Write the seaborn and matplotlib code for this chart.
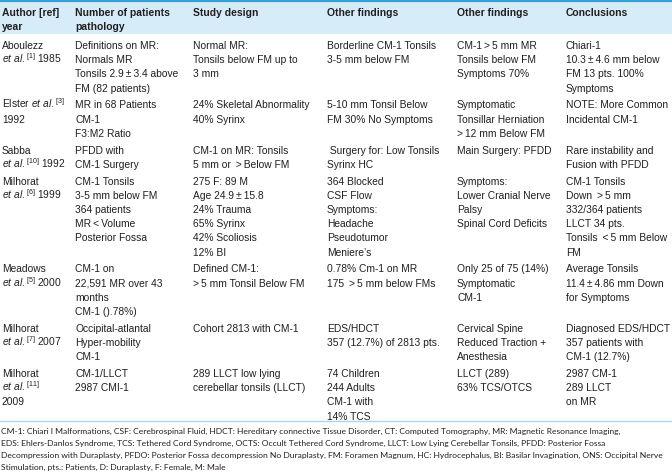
import matplotlib
matplotlib.use("Agg")
import matplotlib.pyplot as plt
import seaborn as sns

# table contents, one list per column
headers = ["Author [ref]\nyear", "Number of patients\npathology", "Study design",
           "Other findings", "Other findings", "Conclusions"]

authors = [
    "Aboulezz\n$\\mathit{et\\ al.}^{[1]}$ 1985",
    "Elster $\\mathit{et\\ al.}^{[3]}$\n1992",
    "Sabba\n$\\mathit{et\\ al.}^{[10]}$ 1992",
    "Milhorat\n$\\mathit{et\\ al.}^{[6]}$ 1999",
    "Meadows\n$\\mathit{et\\ al.}^{[5]}$ 2000",
    "Milhorat\n$\\mathit{et\\ al.}^{[7]}$ 2007",
    "Milhorat\n$\\mathit{et\\ al.}^{[11]}$\n2009",
]

patients = [
    "Definitions on MR:\nNormals MR\nTonsils 2.9\u2009\u00b1\u20093.4 above\nFM (82 patients)",
    "MR in 68 Patients\nCM-1\nF3:M2 Ratio",
    "PFDD with\nCM-1 Surgery",
    "CM-1 Tonsils\n3-5 mm below FM\n364 patients\nMR\u2009<\u2009Volume\nPosterior Fossa",
    "CM-1 on\n22,591 MR over 43\nmonths\nCM-1 ().78%)",
    "Occipital-atlantal\nHyper-mobility\nCM-1",
    "CM-1/LLCT\n2987 CMI-1",
]

design = [
    "Normal MR:\nTonsils below FM up to\n3 mm",
    "24% Skeletal Abnormality\n40% Syrinx",
    "CM-1 on MR: Tonsils\n5 mm or \u2009>\u2009Below FM",
    "275 F: 89 M\nAge 24.9\u2009\u00b1\u200915.8\n24% Trauma\n65% Syrinx\n42% Scoliosis\n12% BI",
    "Defined CM-1:\n>\u20095 mm Tonsil Below FM",
    "Cohort 2813 with CM-1",
    "289 LLCT low lying\ncerebellar tonsils (LLCT)",
]

findings_a = [
    "Borderline CM-1 Tonsils\n3-5 mm below FM",
    "5-10 mm Tonsil Below\nFM 30% No Symptoms",
    " Surgery for: Low Tonsils\nSyrinx HC",
    "364 Blocked\nCSF Flow\nSymptoms:\nHeadache\nPseudotumor\nMeniere\u2019s",
    "0.78% Cm-1 on MR\n175 \u2009>\u20095 mm below FMs",
    "EDS/HDCT\n357 (12.7%) of 2813 pts.",
    "74 Children\n244 Adults\nCM-1 with\n14% TCS",
]

findings_b = [
    "CM-1\u2009>\u20095 mm MR\nTonsils below FM\nSymptoms 70%",
    "Symptomatic\nTonsillar Herniation\n>\u200912 mm Below FM",
    "Main Surgery: PFDD",
    "Symptoms:\nLower Cranial Nerve\nPalsy\nSpinal Cord Deficits",
    "Only 25 of 75 (14%)\nSymptomatic\nCM-1",
    "Cervical Spine\nReduced Traction +\nAnesthesia",
    "LLCT (289)\n63% TCS/OTCS",
]

conclusions = [
    "Chiari-1\n10.3\u2009\u00b1\u20094.6 mm below\nFM 13 pts. 100%\nSymptoms",
    "NOTE: More Common\nIncidental CM-1",
    "Rare instability and\nFusion with PFDD",
    "CM-1 Tonsils\nDown \u2009>\u20095 mm\n332/364 patients\nLLCT 34 pts.\nTonsils \u2009<\u20095 mm Below\nFM",
    "Average Tonsils\n11.4\u2009\u00b1\u20094.86 mm Down\nfor Symptoms",
    "Diagnosed EDS/HDCT\n357 patients with\nCM-1 (12.7%)",
    "2987 CM-1\n289 LLCT\non MR",
]

footnote = [
    "CM-1: Chiari I Malformations, CSF: Cerebrospinal Fluid, HDCT: Hereditary connective Tissue Disorder, CT: Computed Tomography, MR: Magnetic Resonance Imaging,",
    "EDS: Ehlers-Danlos Syndrome, TCS: Tethered Cord Syndrome, OCTS: Occult Tethered Cord Syndrome, LLCT: Low Lying Cerebellar Tonsils, PFDD: Posterior Fossa",
    "Decompression with Duraplasty, PFDO: Posterior Fossa decompression No Duraplasty, FM: Foramen Magnum, HC: Hydrocephalus, BI: Basilar Invagination, ONS: Occipital Nerve",
    "Stimulation, pts.: Patients, D: Duraplasty, F: Female, M: Male",
]

columns = [authors, patients, design, findings_a, findings_b, conclusions]

sns.set_theme(style="white")
plt.rcParams["font.family"] = ["Liberation Sans", "DejaVu Sans"]
plt.rcParams["mathtext.fontset"] = "custom"
plt.rcParams["mathtext.rm"] = "Liberation Sans"
plt.rcParams["mathtext.it"] = "Liberation Sans:italic"

text_color = "#231f20"
col_x = [2, 75, 193, 327, 457, 566]
line_h = 14.2
row_gap = 2.6
first_line = 45
fs = 7.4

fig = plt.figure(figsize=(6.72, 4.72), dpi=100)
ax = fig.add_axes([0, 0, 1, 1])
ax.set_xlim(0, 672)
ax.set_ylim(472, 0)
ax.axis("off")

# header band
ax.axhspan(0, 34, color="#d6edf9", lw=0)
ax.axhline(0.8, color="#35a0d6", lw=1.6)
for x, h in zip(col_x, headers):
    for i, line in enumerate(h.split("\n")):
        ax.text(x, 11.7 + i * 14 + 4, line, fontsize=fs + 0.1, fontweight="bold",
                color=text_color, va="baseline", ha="left")

# body rows
y = first_line
for r in range(len(authors)):
    cells = [col[r].split("\n") for col in columns]
    for x, lines in zip(col_x, cells):
        for i, line in enumerate(lines):
            ax.text(x, y + i * line_h + 4, line, fontsize=fs, color=text_color,
                    va="baseline", ha="left")
    y += max(len(c) for c in cells) * line_h + row_gap

ax.axhline(421, color="#a6d8f0", lw=1)

for i, line in enumerate(footnote):
    ax.text(1, 430 + i * 12 + 3.5, line, fontsize=6.1, color=text_color,
            family=["Lato", "DejaVu Sans"], va="baseline", ha="left")

fig.savefig("out.png", dpi=100)
plt.close(fig)
